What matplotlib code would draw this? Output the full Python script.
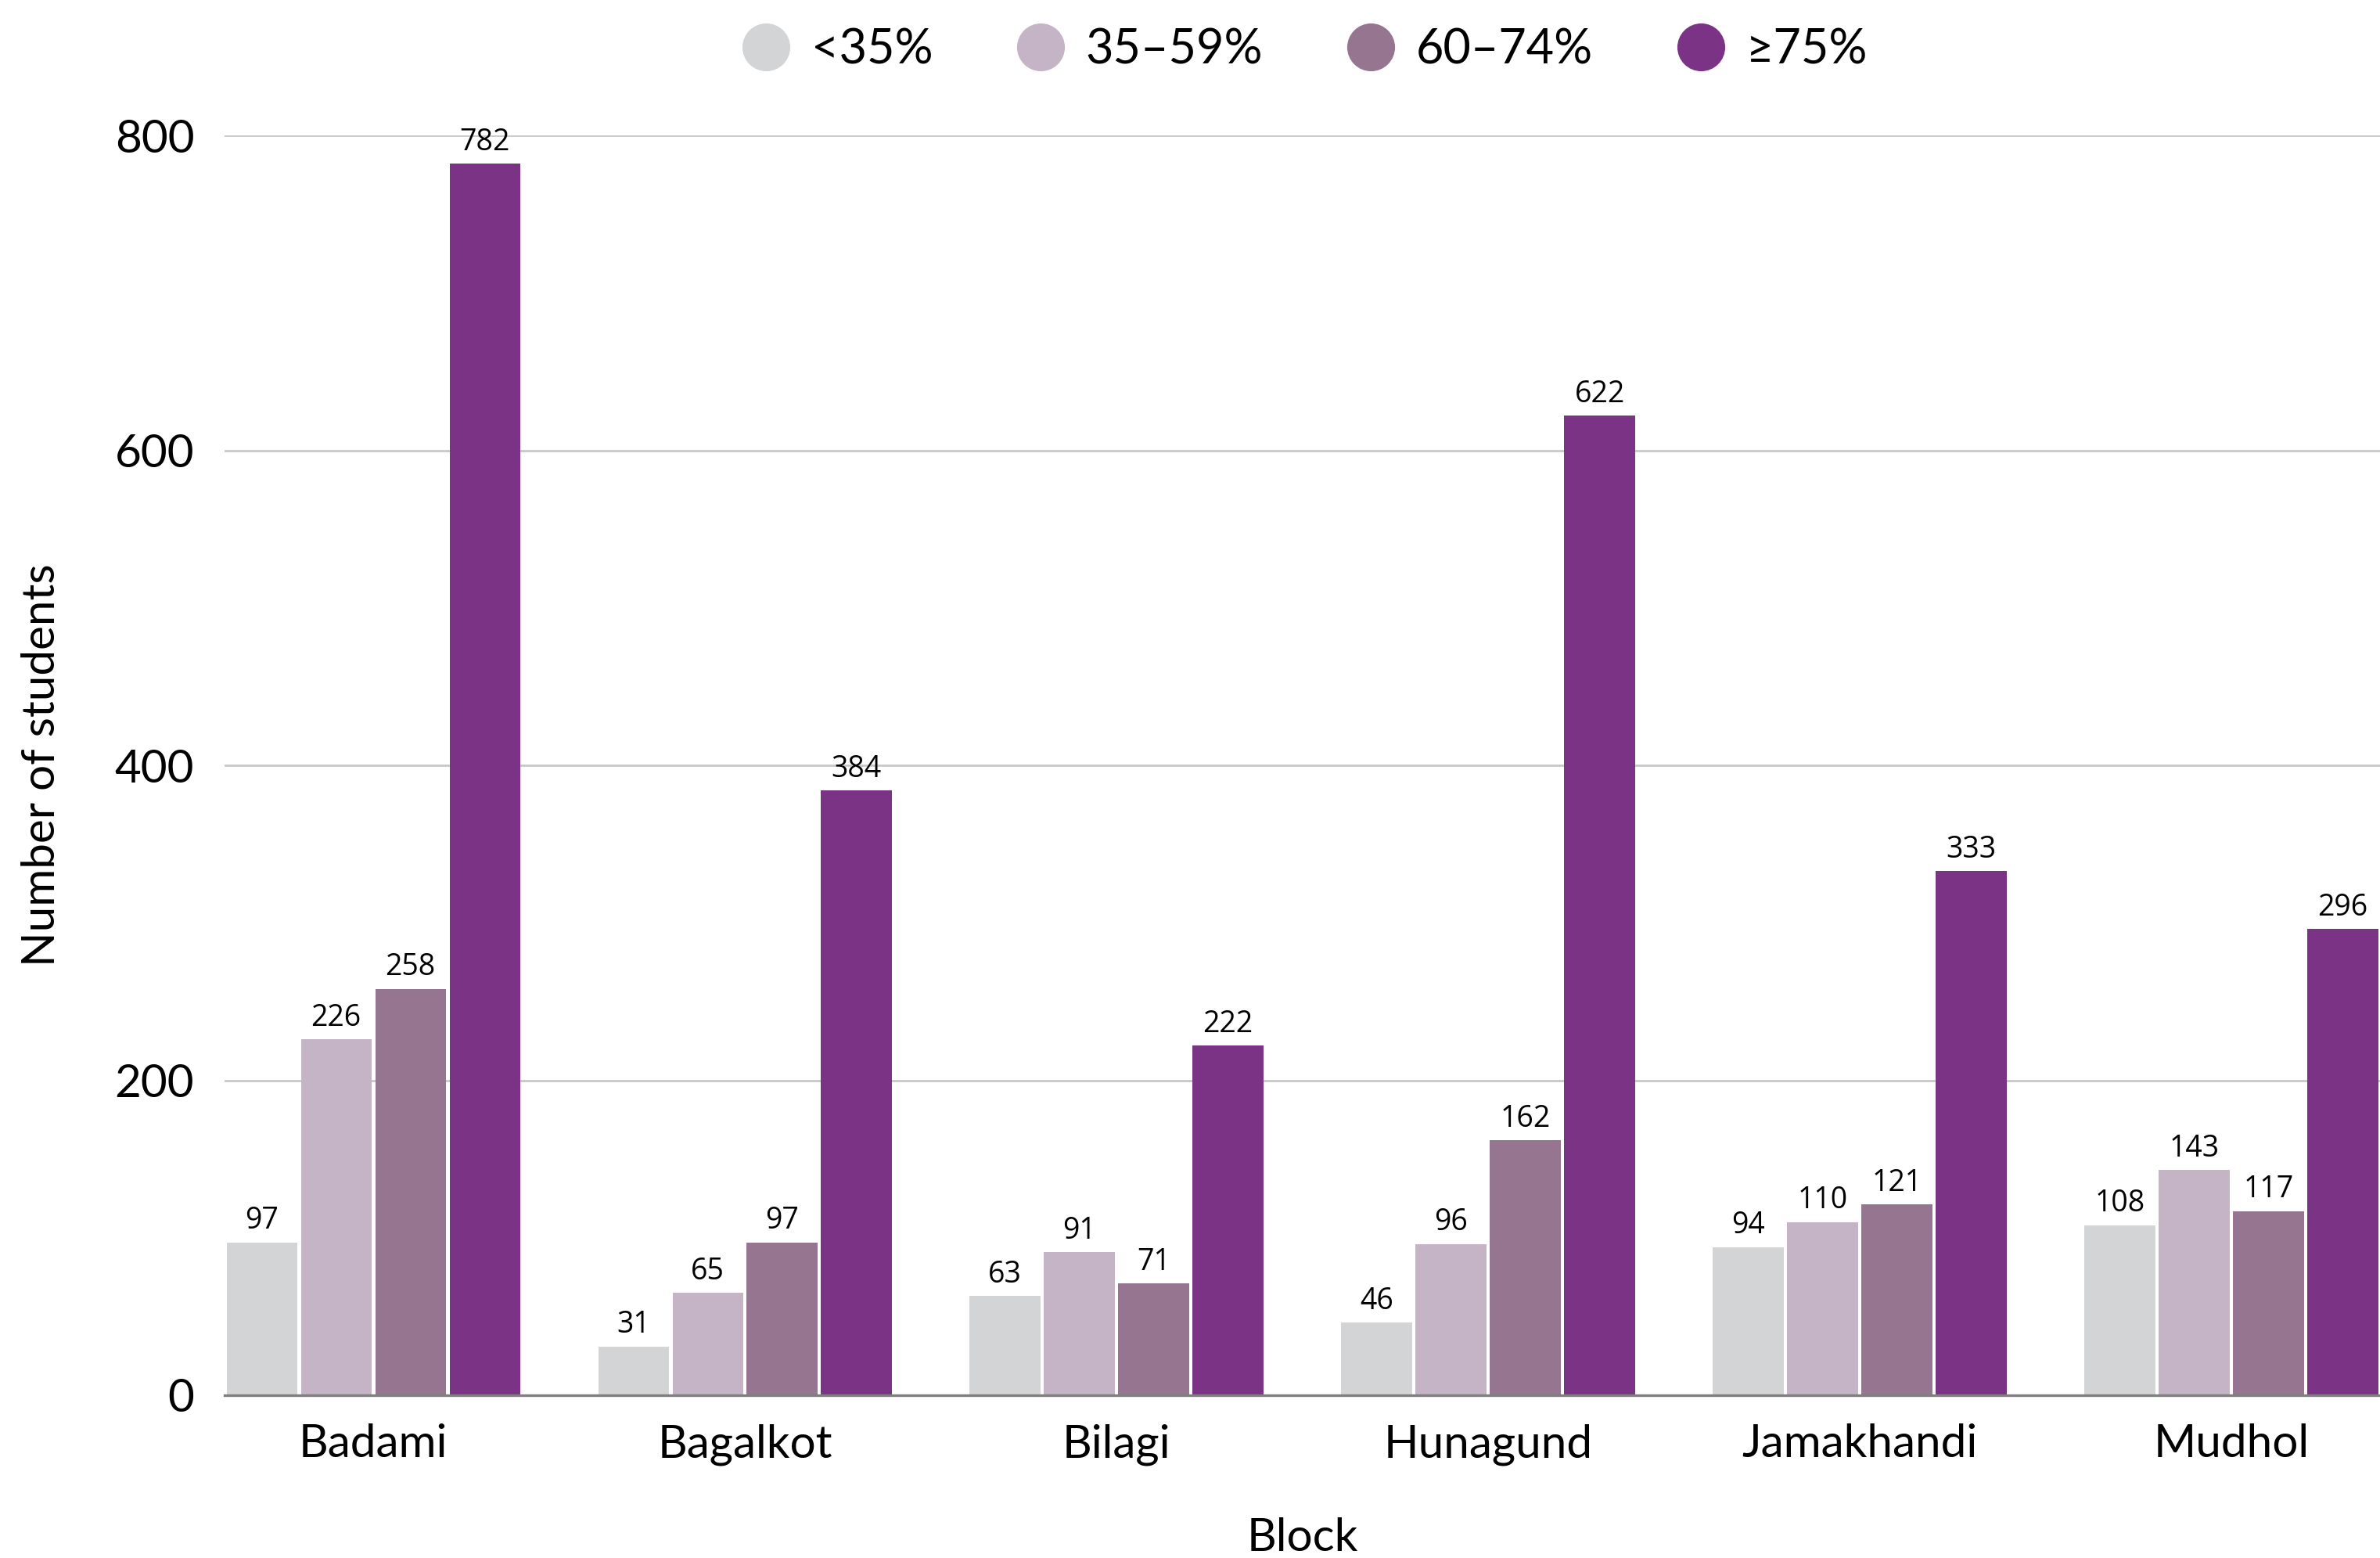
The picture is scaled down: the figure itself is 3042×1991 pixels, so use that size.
import numpy as np
import matplotlib
matplotlib.use("Agg")
import matplotlib.pyplot as plt
from matplotlib.lines import Line2D

# data
blocks = ["Badami", "Bagalkot", "Bilagi", "Hunagund", "Jamakhandi", "Mudhol"]
bands = ["<35%", "35–59%", "60–74%", "≥75%"]
below_35 = [97, 31, 63, 46, 94, 108]
from_35_59 = [226, 65, 91, 96, 110, 143]
from_60_74 = [258, 97, 71, 162, 121, 117]
above_75 = [782, 384, 222, 622, 333, 296]
colors = ["#D3D4D6", "#C5B3C6", "#957590", "#7B3385"]

plt.rcParams["font.family"] = ["Lato", "DejaVu Sans"]

fig = plt.figure(figsize=(15.21, 9.955), dpi=200)
ax = fig.add_axes([0.0944, 0.1045, 0.9056, 0.8085])

x = np.arange(len(blocks))
series = [below_35, from_35_59, from_60_74, above_75]
step = 0.2
for i, (vals, col) in enumerate(zip(series, colors)):
    pos = x - 0.3 + i * step
    bars = ax.bar(pos, vals, width=step * 0.95, color=col, zorder=3)
    for b, v in zip(bars, vals):
        ax.annotate(str(v), (b.get_x() + b.get_width() / 2, v),
                    xytext=(0, 3), textcoords="offset points",
                    ha="center", va="bottom", fontsize=13.5,
                    family=["Open Sans", "DejaVu Sans"], clip_on=False)

ax.set_xlim(-0.4, 5.4)
ax.set_ylim(0, 800)
ax.set_yticks([0, 200, 400, 600, 800])
ax.set_xticks(x)
ax.set_xticklabels(blocks)
ax.tick_params(axis="both", length=0, labelsize=21)
ax.tick_params(axis="y", pad=14)
ax.tick_params(axis="x", pad=13)

ax.grid(axis="y", color="#C8C8C8", linewidth=1.0, zorder=0)
for s in ["top", "right", "left"]:
    ax.spines[s].set_visible(False)
ax.spines["bottom"].set_color("#7F7F7F")
ax.spines["bottom"].set_linewidth(1.2)
ax.spines["bottom"].set_zorder(4)

ax.set_ylabel("Number of students", fontsize=21, labelpad=24)
ax.set_xlabel("Block", fontsize=21, labelpad=24)

handles = [Line2D([], [], marker="o", linestyle="none", markersize=21,
                  markerfacecolor=c, markeredgecolor=c) for c in colors]
ax.legend(handles, bands, loc="center", bbox_to_anchor=(0.5, 1.068),
          ncol=4, frameon=False, fontsize=22, handlelength=1.2,
          handletextpad=0.35, columnspacing=1.65)

fig.savefig("out.png", dpi=200)
